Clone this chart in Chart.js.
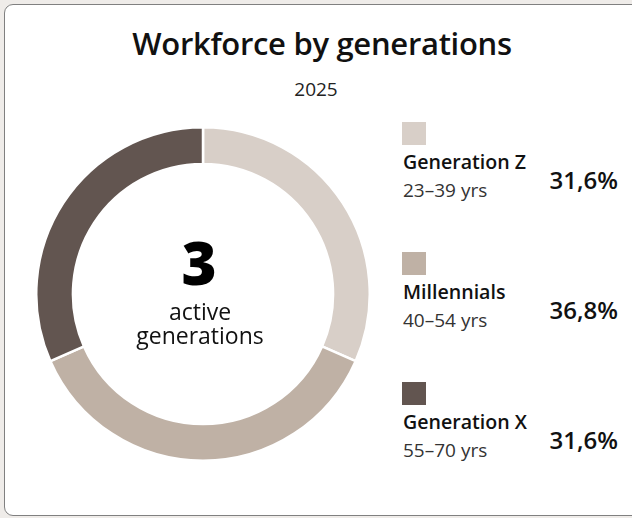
<!DOCTYPE html>
<html>
<head>
<meta charset="utf-8">
<script src="https://cdn.jsdelivr.net/npm/chart.js@4/dist/chart.umd.min.js"></script>
<style>
  html, body { margin: 0; padding: 0; width: 632px; height: 518px; overflow: hidden; background: #efece9; font-family: "Open Sans", "Noto Sans", sans-serif; }
  #card { position: absolute; left: 4px; top: 4px; width: 660px; height: 512px; background: #fff; border: 1.5px solid #808080; border-radius: 9px; box-sizing: border-box; }
  #title { position: absolute; left: 0; width: 644px; top: 27.5px; line-height: 1; text-align: center; font-size: 31px; font-weight: 600; color: #111; letter-spacing: -0.3px; }
  #subtitle { position: absolute; left: 0; width: 632px; top: 80px; line-height: 1; text-align: center; font-size: 19px; color: #222; }
  #chartWrap { position: absolute; left: 35px; top: 126px; width: 336px; height: 336px; }
  #legend { position: absolute; left: 402px; top: 122px; width: 220px; }
  .item { position: absolute; left: 0; width: 218px; height: 110px; }
  .sw { position: absolute; left: 0; top: 0; width: 24px; height: 23px; }
  .lab { position: absolute; left: 1px; top: 30px; line-height: 1; font-size: 19.6px; font-weight: 600; color: #111; white-space: nowrap; }
  .age { position: absolute; left: 1px; top: 59px; line-height: 1; font-size: 19px; color: #333; white-space: nowrap; }
  .pct { position: absolute; right: 2px; top: 46px; line-height: 1; font-size: 24px; font-weight: 600; color: #111; }
</style>
</head>
<body>
<div id="card"></div>
<div id="title">Workforce by generations</div>
<div id="subtitle">2025</div>
<div id="chartWrap"><canvas id="c" width="336" height="336"></canvas></div>
<div id="legend"></div>
<script>
const categories = ["Generation Z", "Millennials", "Generation X"];
const ageRanges = ["23–39 yrs", "40–54 yrs", "55–70 yrs"];
const shares = [31.6, 36.8, 31.6];
const colors = ["#d8cfc8", "#bfb1a5", "#625550"];
const centerValue = "3";
const centerLines = ["active", "generations"];

const legend = document.getElementById("legend");
categories.forEach((cat, i) => {
  const d = document.createElement("div");
  d.className = "item";
  d.style.top = (i * 130) + "px";
  d.innerHTML = '<div class="sw" style="background:' + colors[i] + '"></div>' +
    '<div class="lab">' + cat + '</div>' +
    '<div class="age">' + ageRanges[i] + '</div>' +
    '<div class="pct">' + shares[i].toFixed(1).replace(".", ",") + '%</div>';
  legend.appendChild(d);
});

const centerText = {
  id: "centerText",
  afterDraw(chart) {
    const { ctx } = chart;
    const arc = chart.getDatasetMeta(0).data[0];
    const x = arc.x, y = arc.y;
    ctx.save();
    ctx.textAlign = "center";
    ctx.textBaseline = "alphabetic";
    ctx.fillStyle = "#000";
    ctx.font = '900 60px "Open Sans", "Noto Sans", sans-serif';
    ctx.fillText(centerValue, x - 4, y - 9);
    ctx.fillStyle = "#111";
    ctx.font = '23px "Open Sans", "Noto Sans", sans-serif';
    ctx.fillText(centerLines[0], x - 3, y + 26);
    ctx.fillText(centerLines[1], x - 3, y + 50);
    ctx.restore();
  }
};

new Chart(document.getElementById("c"), {
  type: "doughnut",
  data: {
    labels: categories,
    datasets: [{
      data: shares,
      backgroundColor: colors,
      borderColor: "#ffffff",
      borderWidth: 2.5,
      hoverOffset: 0
    }]
  },
  options: {
    responsive: false,
    animation: false,
    cutout: "78%",
    layout: { padding: 0 },
    plugins: { legend: { display: false }, tooltip: { enabled: false } }
  },
  plugins: [centerText]
});
</script>
</body>
</html>
